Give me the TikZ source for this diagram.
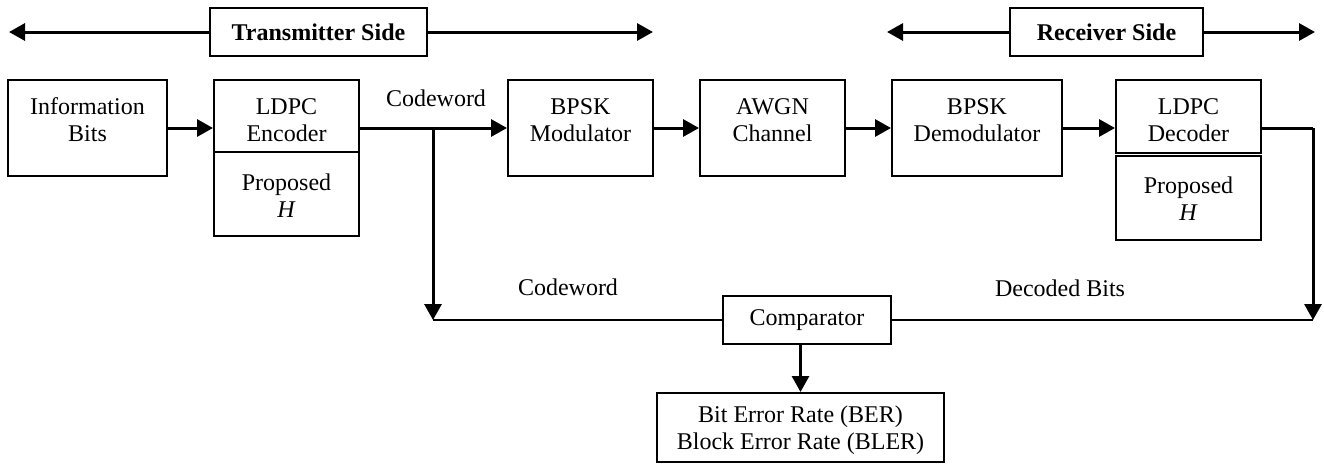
\documentclass[tikz,border=0pt]{standalone}
\usepackage{fontspec}
\setmainfont{Liberation Serif}
\usetikzlibrary{arrows.meta}
\begin{document}
\begin{tikzpicture}[x=1pt,y=-1pt,
  box/.style={draw=black,line width=2pt,rectangle,inner sep=0pt},
  txt/.style={align=center,inner sep=0pt,font=\fontsize{24}{27}\selectfont},
  btxt/.style={align=center,inner sep=0pt,font=\fontsize{24}{27}\selectfont\bfseries},
  arr/.style={line width=3pt,-{Triangle[length=16pt,width=17pt]}},
  wire/.style={line width=2pt}]
\useasboundingbox (0,0) rectangle (1324,464);

% side banners
\node[box,minimum width=217pt,minimum height=48pt] (tx) at (318.5,32) {};
\node[btxt] (txt-tx) at (tx.center) {Transmitter Side};
\node[box,minimum width=193pt,minimum height=48pt] (rx) at (1106.5,32) {};
\node[btxt] (txt-rx) at (rx.center) {Receiver Side};
\coordinate (txL) at (9,32);
\coordinate (txR) at (653,32);
\coordinate (rxL) at (887,32);
\coordinate (rxR) at (1315,32);
\draw[arr] (tx.west) -- (txL);
\draw[arr] (tx.east) -- (txR);
\draw[arr] (rx.west) -- (rxL);
\draw[arr] (rx.east) -- (rxR);

% processing chain
\node[box,minimum width=159pt,minimum height=96pt] (info) at (87.5,128) {};
\node[txt] (t-info) at (87.5,120) {Information\\Bits};
\node[box,minimum width=145pt,minimum height=72pt] (enc) at (286.5,116) {};
\node[txt] (t-enc) at (286.5,120) {LDPC\\Encoder};
\node[box,minimum width=145pt,minimum height=84pt] (encH) at (286.5,194) {};
\node[txt] (t-encH) at (286.5,196) {Proposed\\\textit{H}};
\node[box,minimum width=145pt,minimum height=96pt] (mod) at (580.5,128) {};
\node[txt] (t-mod) at (580.5,120) {BPSK\\Modulator};
\node[box,minimum width=145pt,minimum height=96pt] (awgn) at (772.5,128) {};
\node[txt] (t-awgn) at (772.5,120) {AWGN\\Channel};
\node[box,minimum width=170pt,minimum height=96pt] (demod) at (977,128) {};
\node[txt] (t-demod) at (977,120) {BPSK\\Demodulator};
\node[box,minimum width=145pt,minimum height=73pt] (dec) at (1188.5,116.5) {};
\node[txt] (t-dec) at (1188.5,120) {LDPC\\Decoder};
\node[box,minimum width=145pt,minimum height=84pt] (decH) at (1188.5,198) {};
\node[txt] (t-decH) at (1188.5,199) {Proposed\\\textit{H}};

% comparison stage
\node[box,minimum width=168pt,minimum height=48pt] (comp) at (807,320) {};
\node[txt] (t-comp) at (comp.center) {Comparator};
\node[box,minimum width=287pt,minimum height=69pt] (ber) at (800.5,427.5) {};
\node[txt] (t-ber) at (800.5,430) {Bit Error Rate (BER)\\Block Error Rate (BLER)};

% connector labels
\node[txt] (l-cw1) at (436,98) {Codeword};
\node[txt] (l-cw2) at (568,287) {Codeword};
\node[txt] (l-db) at (1060,288) {Decoded Bits};

% connectors
\draw[arr] (info.east) -- (info.east -| enc.west);
\draw[arr] (mod.west -| enc.east) -- (mod.west);
\draw[arr] (mod.east) -- (awgn.west);
\draw[arr] (awgn.east) -- (demod.west);
\draw[arr] (demod.east) -- (demod.east -| dec.west);

\coordinate (br) at (433,128);
\coordinate (brD) at (433,320);
\draw[arr] (br) -- (brD);
\draw[wire] (brD) -- (comp.west);

\coordinate (decR) at (1313,128);
\coordinate (decD) at (1313,320);
\draw[line width=3pt] (decR -| dec.east) -- (decR);
\draw[arr] (decR) -- (decD);
\draw[wire] (comp.east) -- (decD);

\draw[arr] (comp.south -| ber.north) -- (ber.north);
\end{tikzpicture}
\end{document}
